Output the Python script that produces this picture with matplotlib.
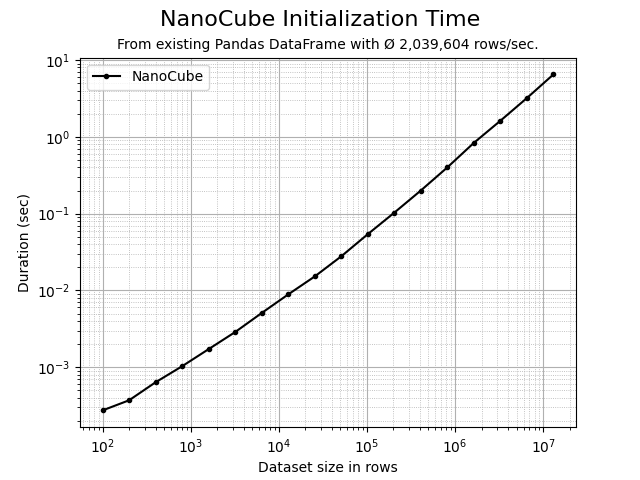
import matplotlib
matplotlib.use('Agg')
from matplotlib import pyplot as plt

# размеры датасетов и время инициализации
rows = [100, 200, 400, 800, 1600, 3200, 6400, 12800, 25600, 51200, 102400,
        204800, 409600, 819200, 1638400, 3276800, 6553600, 13107200]
duration = [0.000274, 0.000371, 0.000637, 0.00103, 0.00172, 0.00287, 0.00508,
            0.00887, 0.0152, 0.0278, 0.054, 0.103, 0.2, 0.40, 0.835, 1.62,
            3.2, 6.5]

fig = plt.figure(figsize=(6.4, 4.8))
plt.plot(rows, duration, color='black', marker='o', markersize=3, label='NanoCube')
plt.xscale('log')
plt.yscale('log')
plt.suptitle('NanoCube Initialization Time', fontsize=16)
plt.title('From existing Pandas DataFrame with Ø 2,039,604 rows/sec.', fontsize=10)
plt.xlabel('Dataset size in rows')
plt.ylabel('Duration (sec)')
plt.grid(True, which='major', ls='-', color='#b0b0b0')
plt.grid(True, which='minor', ls=':', color='#b0b0b0', lw=0.6)
plt.legend(loc='upper left')
plt.savefig('out.png', dpi=100)
